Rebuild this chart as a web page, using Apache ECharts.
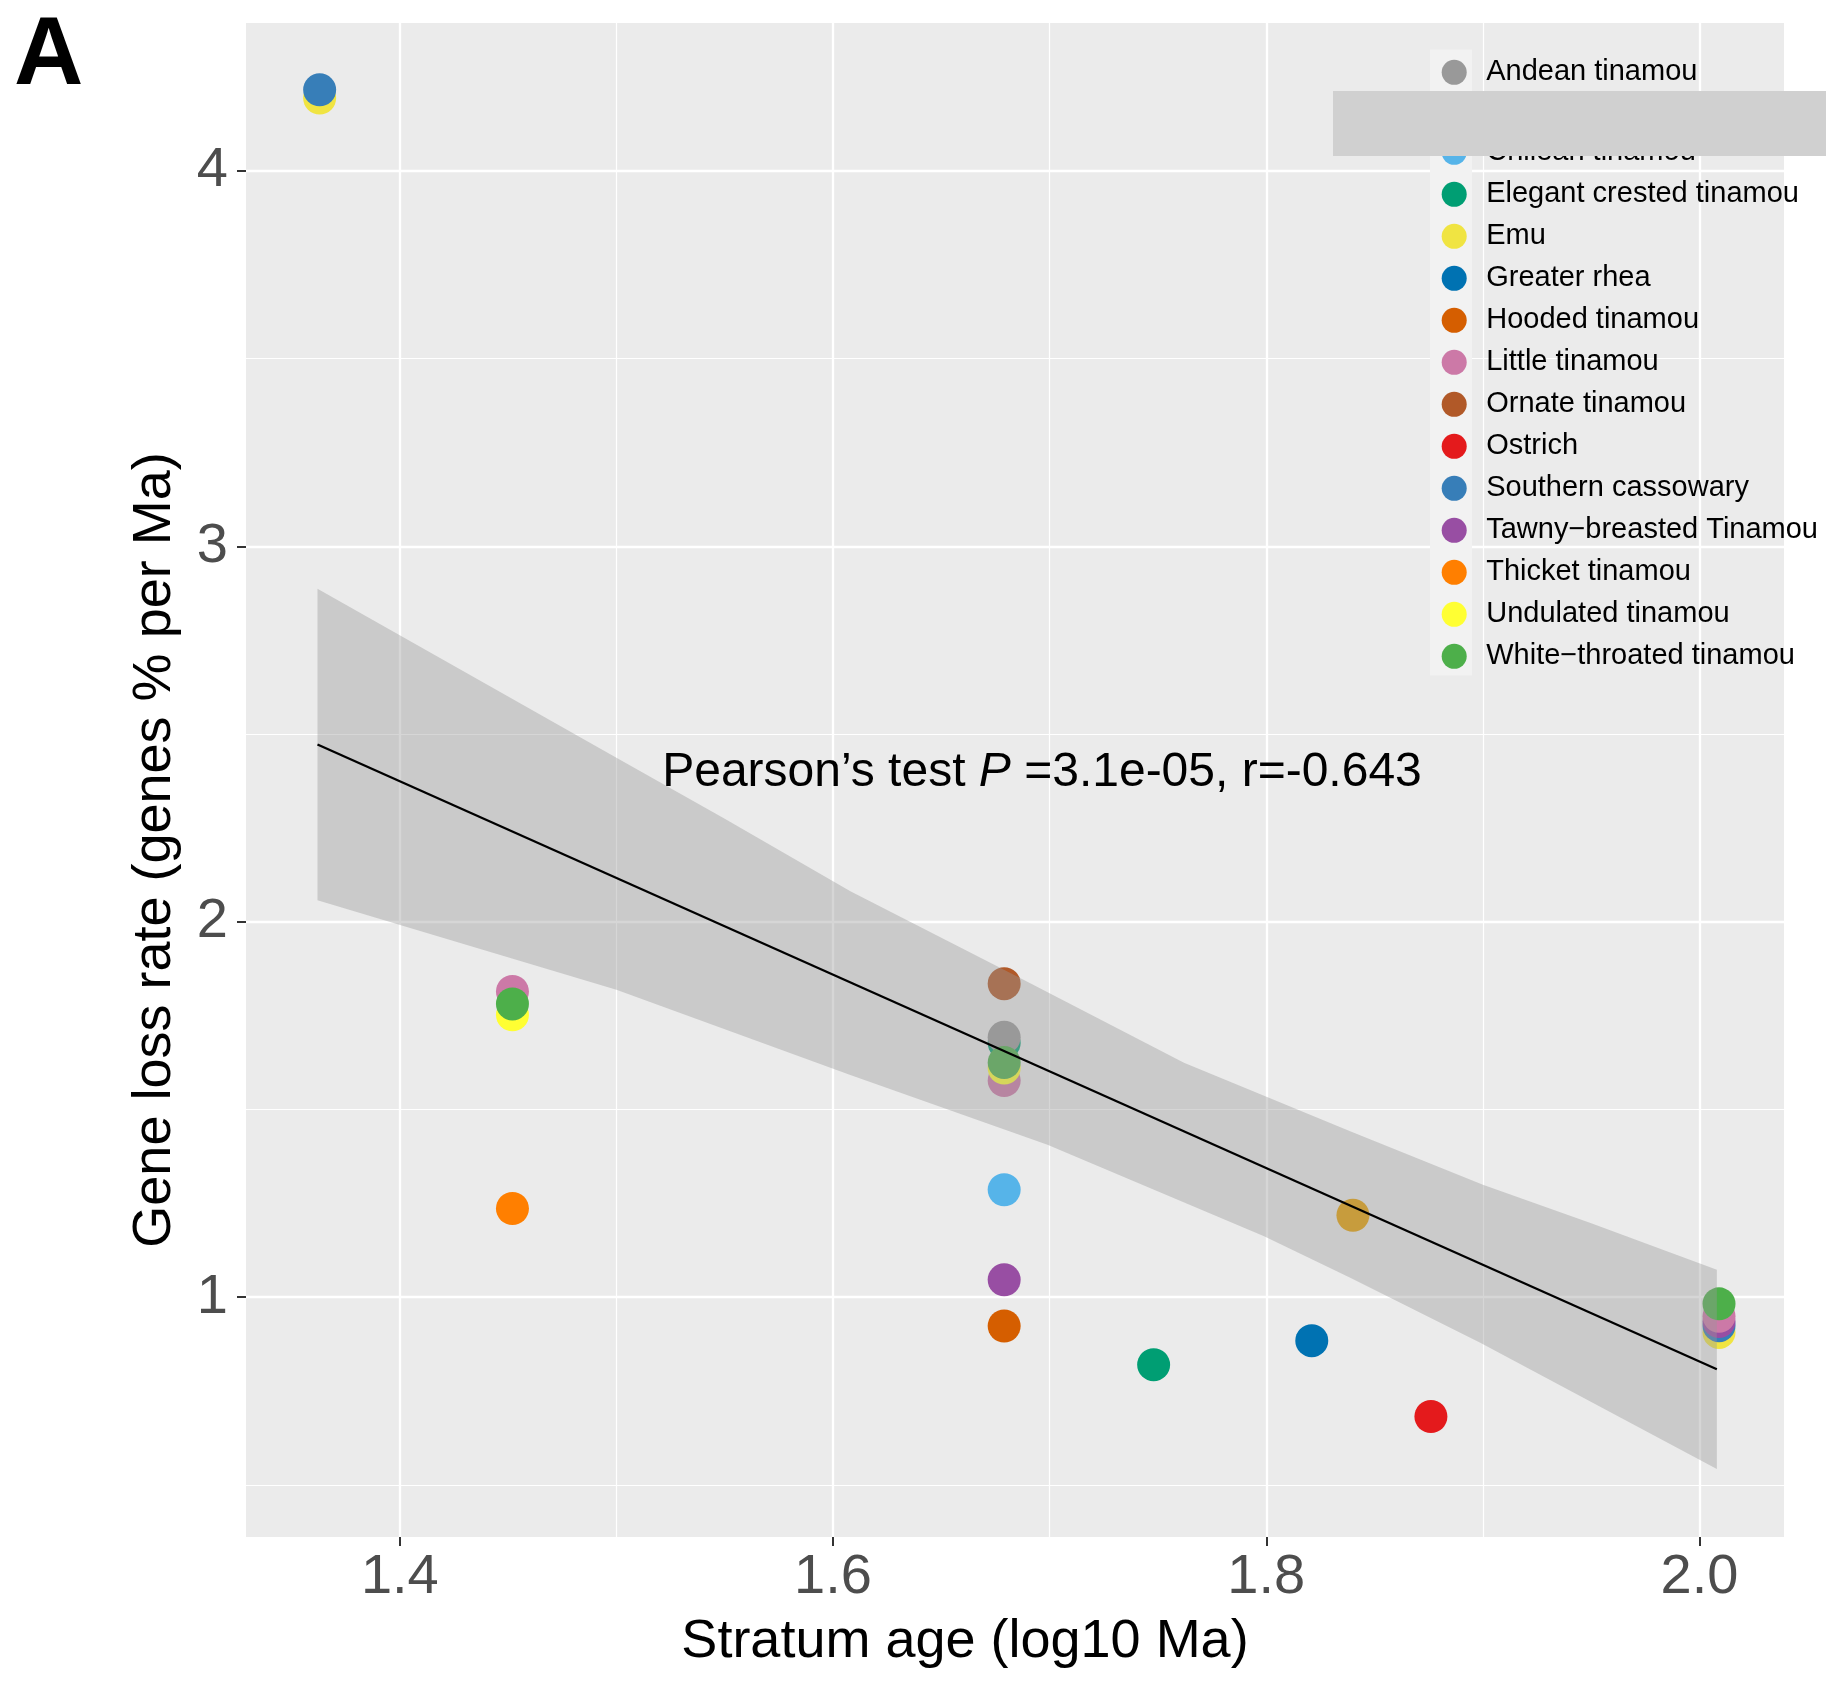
<!DOCTYPE html>
<html>
<head>
<meta charset="utf-8">
<script src="https://cdn.jsdelivr.net/npm/echarts@6/dist/echarts.min.js"></script>
<style>
  html, body { margin: 0; padding: 0; background: #fff; }
  #chart { width: 1826px; height: 1681px; }
</style>
</head>
<body>
<div id="chart"></div>
<script>
// legend entry whose label is covered in the figure
const HIDDEN = 'covered';

const speciesNames = [
  'Andean tinamou', HIDDEN, 'Chilean tinamou', 'Elegant crested tinamou', 'Emu',
  'Greater rhea', 'Hooded tinamou', 'Little tinamou', 'Ornate tinamou', 'Ostrich',
  'Southern cassowary', 'Tawny\u2212breasted Tinamou', 'Thicket tinamou',
  'Undulated tinamou', 'White\u2212throated tinamou'
];
const speciesColors = [
  '#999999', '#E69F00', '#56B4E9', '#009E73', '#F0E442',
  '#0072B2', '#D55E00', '#CC79A7', '#B15928', '#E41A1C',
  '#377EB8', '#984EA3', '#FF7F00', '#FFFF33', '#4DAF4A'
];
// order in which the points were plotted (later ones sit on top)
const drawOrder = [4, 10, 11, 7, 13, 5, 6, 2, 12, 9, 8, 1, 3, 0, 14];

// one entry per point
const pointSpecies = [0, 1, 2, 3, 3, 4, 4, 5, 6, 7, 7, 7, 8, 9, 10, 10, 11, 11, 12, 13, 13, 14, 14, 14];
const pointAge = [1.679, 1.840, 1.679, 1.748, 1.679, 1.363, 2.009, 1.821, 1.679, 1.452, 1.679, 2.009,
  1.679, 1.876, 1.363, 2.009, 1.679, 2.009, 1.452, 1.452, 1.679, 1.452, 1.679, 2.009];
const pointRate = [1.692, 1.218, 1.286, 0.820, 1.677, 4.194, 0.906, 0.884, 0.923, 1.814, 1.577, 0.949,
  1.835, 0.682, 4.216, 0.924, 1.046, 0.935, 1.236, 1.752, 1.610, 1.781, 1.625, 0.982];

// linear fit and its confidence band
const fitX = [1.362, 2.008];
const fitY = [2.472, 0.808];
const bandUpperX = [1.362, 1.45, 1.5, 1.55, 1.608, 1.685, 1.762, 1.839, 1.9, 1.95, 2.008];
const bandUpperY = [2.887, 2.600, 2.437, 2.274, 2.081, 1.854, 1.624, 1.441, 1.299, 1.197, 1.073];
const bandLowerX = [1.362, 1.5, 1.608, 1.699, 1.799, 1.839, 1.899, 2.008];
const bandLowerY = [2.057, 1.819, 1.592, 1.406, 1.162, 1.051, 0.878, 0.542];

const xTicks = [1.4, 1.6, 1.8, 2.0];
const yTicks = [1, 2, 3, 4];

const FONT = '"Liberation Sans", Arial, Helvetica, sans-serif';

const scatterSeries = drawOrder.map(function (si) {
  const data = [];
  pointSpecies.forEach(function (s, i) {
    if (s === si) data.push([pointAge[i], pointRate[i]]);
  });
  return {
    name: speciesNames[si],
    type: 'scatter',
    symbol: 'circle',
    symbolSize: 33,
    itemStyle: { color: speciesColors[si], opacity: 1 },
    emphasis: { disabled: true },
    z: 2,
    data: data
  };
});

const bandSeries = {
  type: 'custom',
  z: 3,
  silent: true,
  data: [[bandUpperX[0], bandUpperY[0]]],
  renderItem: function (params, api) {
    const pts = [];
    for (let i = 0; i < bandUpperX.length; i++) pts.push(api.coord([bandUpperX[i], bandUpperY[i]]));
    for (let i = bandLowerX.length - 1; i >= 0; i--) pts.push(api.coord([bandLowerX[i], bandLowerY[i]]));
    return {
      type: 'polygon',
      shape: { points: pts },
      style: { fill: 'rgba(153,153,153,0.4)' }
    };
  }
};

const fitSeries = {
  type: 'line',
  z: 4,
  silent: true,
  showSymbol: false,
  data: fitX.map(function (x, i) { return [x, fitY[i]]; }),
  lineStyle: { color: '#000', width: 2.3 }
};

const option = {
  animation: false,
  grid: {
    left: 246, right: 42, top: 23, bottom: 144,
    show: true, backgroundColor: '#EBEBEB', borderWidth: 0
  },
  xAxis: {
    type: 'value',
    min: 1.329, max: 2.039,
    splitNumber: 4,
    name: 'Stratum age (log10 Ma)',
    nameLocation: 'middle',
    nameGap: 78,
    nameTextStyle: { fontSize: 54, color: '#000', fontFamily: FONT, padding: [0, 100, 0, 0] },
    axisLine: { show: false },
    axisTick: { show: true, length: 9, customValues: xTicks, lineStyle: { color: '#333', width: 2 } },
    axisLabel: {
      customValues: xTicks, fontSize: 56, color: '#4D4D4D', fontFamily: FONT, margin: 13,
      formatter: function (v) { return v.toFixed(1); }
    },
    splitLine: { show: true, lineStyle: { color: '#fff', width: 2.3 } },
    minorTick: { show: false, splitNumber: 2 },
    minorSplitLine: { show: true, lineStyle: { color: '#fff', width: 1.2 } }
  },
  yAxis: {
    type: 'value',
    min: 0.361, max: 4.394,
    splitNumber: 4,
    name: 'Gene loss rate (genes % per Ma)',
    nameLocation: 'middle',
    nameGap: 64,
    nameTextStyle: { fontSize: 54, color: '#000', fontFamily: FONT, padding: [0, 140, 0, 0] },
    axisLine: { show: false },
    axisTick: { show: true, length: 9, customValues: yTicks, lineStyle: { color: '#333', width: 2 } },
    axisLabel: {
      customValues: yTicks, fontSize: 56, color: '#4D4D4D', fontFamily: FONT, margin: 18,
      formatter: function (v) { return String(v); }
    },
    splitLine: { show: true, lineStyle: { color: '#fff', width: 2.3 } },
    minorTick: { show: false, splitNumber: 2 },
    minorSplitLine: { show: true, lineStyle: { color: '#fff', width: 1.2 } }
  },
  legend: {
    data: speciesNames.map(function (n) { return { name: n, icon: 'circle' }; }),
    orient: 'vertical',
    right: 8,
    top: 57.8,
    padding: 0,
    itemWidth: 54,
    itemHeight: 25,
    itemGap: 13,
    selectedMode: false,
    formatter: function (n) { return n === HIDDEN ? '' : n; },
    textStyle: { fontSize: 29, color: '#000', fontFamily: FONT, lineHeight: 25 }
  },
  graphic: [
    {
      type: 'rect', z: 1, silent: true,
      shape: { x: 1430, y: 49.5, width: 42, height: 626 },
      style: { fill: '#F2F2F2' }
    },
    {
      type: 'rect', z: 100, silent: true,
      shape: { x: 1333, y: 91, width: 493, height: 65 },
      style: { fill: '#D0D0D0' }
    },
    {
      type: 'text', z: 50, silent: true,
      x: 14, y: 57.5,
      style: {
        text: 'A', fontSize: 96, fontWeight: 'bold', fontFamily: FONT, fill: '#000',
        align: 'left', verticalAlign: 'middle'
      }
    },
    {
      type: 'text', z: 50, silent: true,
      x: 1042, y: 773,
      style: {
        text: '{n|Pearson\u2019s test }{i|P}{n| =3.1e-05, r=-0.643}',
        align: 'center', verticalAlign: 'middle',
        rich: {
          n: { fontSize: 48, fontFamily: FONT, fill: '#000' },
          i: { fontSize: 48, fontFamily: FONT, fontStyle: 'italic', fill: '#000' }
        }
      }
    }
  ],
  series: scatterSeries.concat([bandSeries, fitSeries])
};

const chart = echarts.init(document.getElementById('chart'), null, { renderer: 'canvas' });
chart.setOption(option);
</script>
</body>
</html>
